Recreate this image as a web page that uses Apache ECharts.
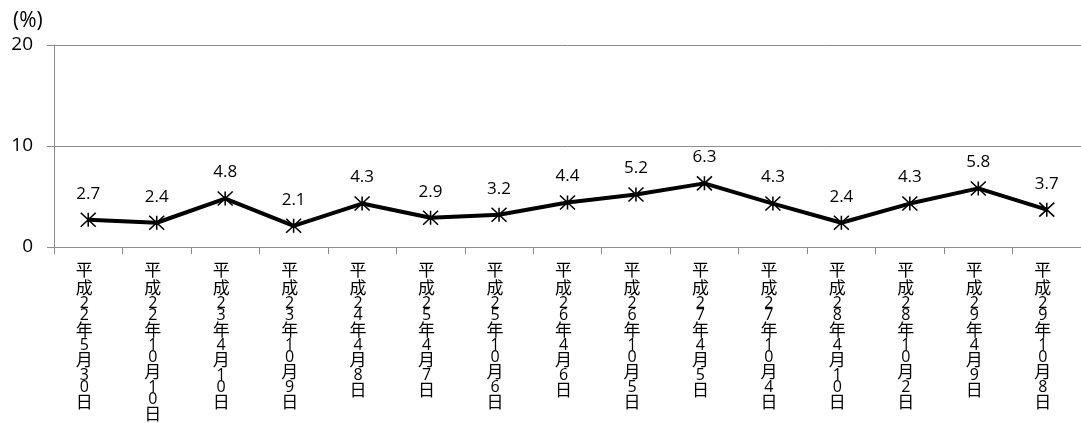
<!DOCTYPE html>
<html>
<head>
<meta charset="utf-8">
<script src="https://cdn.jsdelivr.net/npm/echarts@6/dist/echarts.min.js"></script>
<style>html,body{margin:0;padding:0;background:#fff;}#c{width:1081px;height:423px;}</style>
</head>
<body>
<div id="c"></div>
<script>
const categories = [
  '平成22年5月30日','平成22年10月10日','平成23年4月10日','平成23年10月9日',
  '平成24年4月8日','平成25年4月7日','平成25年10月6日','平成26年4月6日',
  '平成26年10月5日','平成27年4月5日','平成27年10月4日','平成28年4月10日',
  '平成28年10月2日','平成29年4月9日','平成29年10月8日'
];
const values = [2.7, 2.4, 4.8, 2.1, 4.3, 2.9, 3.2, 4.4, 5.2, 6.3, 4.3, 2.4, 4.3, 5.8, 3.7];
const yMin = 0, yMax = 20, yInterval = 10;
const unitLabel = '(%)';

const FONT = "'Open Sans', 'Noto Sans CJK JP', sans-serif";
const chart = echarts.init(document.getElementById('c'));
chart.setOption({
  animation: false,
  backgroundColor: '#fff',
  title: {
    text: unitLabel, left: 8, top: 6,
    textStyle: { fontSize: 21, fontWeight: 'normal', color: '#000', fontFamily: FONT }
  },
  grid: { left: 54, top: 45, width: 1033, bottom: 176, containLabel: false },
  xAxis: {
    type: 'category',
    data: categories,
    boundaryGap: true,
    axisLine: { lineStyle: { color: '#8c8c8c', width: 1 } },
    axisTick: { show: true, length: 7, interval: 0, lineStyle: { color: '#8c8c8c' } },
    axisLabel: {
      interval: 0, margin: 14, padding: [0, 8, 0, 0],
      formatter: function (v) {
        return v.split('').map(ch => /[0-9]/.test(ch) ? '{d|' + ch + '}' : '{c|' + ch + '}').join('\n');
      },
      rich: {
        c: { fontSize: 17, lineHeight: 18, color: '#000', fontFamily: "'Noto Sans CJK JP', sans-serif" },
        d: { fontSize: 16, lineHeight: 12, color: '#000', fontFamily: FONT }
      }
    }
  },
  yAxis: {
    type: 'value', min: yMin, max: yMax, interval: yInterval,
    axisLine: { show: true, lineStyle: { color: '#8c8c8c', width: 1 } },
    axisTick: { show: true, length: 7, lineStyle: { color: '#8c8c8c' } },
    splitLine: { show: true, lineStyle: { color: '#8c8c8c', width: 1 } },
    axisLabel: { margin: 21, fontSize: 19, color: '#000', fontFamily: FONT }
  },
  series: [{
    type: 'line',
    data: values,
    lineStyle: { color: '#000', width: 4 },
    symbol: 'path://M0,0L10,10M10,0L0,10M5,0L5,10',
    symbolSize: [15, 14],
    itemStyle: { color: 'none', borderColor: '#000', borderWidth: 1.5 },
    label: {
      show: true, position: 'top', distance: 8,
      fontSize: 17, color: '#000', fontFamily: FONT,
      formatter: p => p.value.toFixed(1)
    }
  }]
});
</script>
</body>
</html>
